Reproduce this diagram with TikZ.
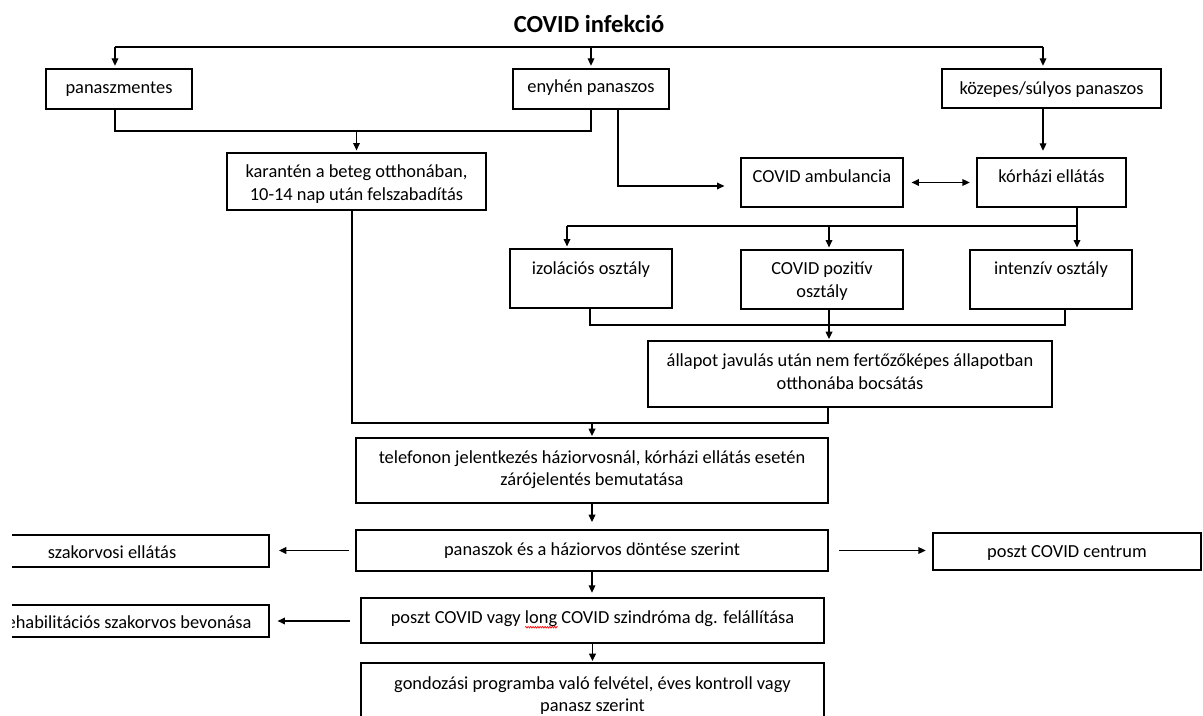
\documentclass[tikz,border=0pt]{standalone}
\usepackage{fontspec}
\setmainfont{Carlito}
\usetikzlibrary{arrows.meta}
\newlength\pxu
\setlength\pxu{0.75pt}
\newlength\wavewd
\newcommand\boxtxt[4]{\parbox[c][#2\pxu][t]{#1\pxu}{\centering\rule{0pt}{#3\pxu}#4\par}}
\newcommand\redwave[1]{\settowidth\wavewd{#1}\rlap{\raisebox{-3.2pt}{\tikz[x=1pt,y=1pt,baseline=0pt]\draw[red,line width=0.45pt] plot[domain=0:\wavewd/1pt,samples=60] (\x,{0.7*sin(\x*200)});}}#1}
\tikzset{
  box/.style={draw, line width=0.9pt, inner sep=0pt, font=\fontsize{13.8}{17.2}\selectfont},
  ln/.style={line width=0.9pt},
  arr/.style={-{Triangle[length=5.5pt,width=5pt]}},
  darr/.style={{Triangle[length=5.5pt,width=5pt]}-{Triangle[length=5.5pt,width=5pt]}}
}
\begin{document}
\begin{tikzpicture}[x=0.75pt,y=-0.75pt]
\useasboundingbox (0,0) rectangle (1203,716);
% title
\node[font=\bfseries\fontsize{18.4}{22}\selectfont, anchor=base, inner sep=0pt] (title) at (589,33) {COVID infekció};
% boxes
\node[box] (pm)  at (119,89)     {\boxtxt{146}{40}{25}{panaszmentes}};
\node[box] (en)  at (591,89)     {\boxtxt{156}{40}{24}{enyhén panaszos}};
\node[box] (kz)  at (1051.5,88.5){\boxtxt{219}{39}{26}{közepes/súlyos panaszos}};
\node[box] (kar) at (356.5,181.5){\boxtxt{259}{57}{25}{karantén a beteg otthonában,\\10-14 nap után felszabadítás}};
\node[box] (amb) at (822,182.5)  {\boxtxt{162}{49}{25}{COVID ambulancia}};
\node[box] (kor) at (1051.5,182.5){\boxtxt{149}{49}{25}{kórházi ellátás}};
\node[box] (izo) at (591,278.5)  {\boxtxt{162}{59}{26}{izolációs osztály}};
\node[box] (poz) at (822,279.5)  {\boxtxt{162}{59}{25}{COVID pozitív\\osztály}};
\node[box] (int) at (1051,279.5) {\boxtxt{162}{59}{25}{intenzív osztály}};
\node[box] (all) at (850,374)    {\boxtxt{404}{66}{26}{állapot javulás után nem fertőzőképes állapotban\\otthonába bocsátás}};
\node[box] (tel) at (592,470.5)  {\boxtxt{472}{65}{25}{telefonon jelentkezés háziorvosnál, kórházi ellátás esetén\\zárójelentés bemutatása}};
\node[box] (pan) at (592,550.5)  {\boxtxt{472}{41}{25}{panaszok és a háziorvos döntése szerint}};
\node[box] (pos) at (592.5,620.5){\boxtxt{463}{45}{25}{poszt COVID vagy \redwave{long} COVID szindróma dg. felállítása}};
\node[box] (gon) at (592.5,703)  {\boxtxt{463}{80}{26}{gondozási programba való felvétel, éves kontroll vagy\\panasz szerint}};
\node[box] (cen) at (1067,551.5) {\boxtxt{268}{37}{24}{poszt COVID centrum}};
\begin{scope}
  \clip (12,520) rectangle (300,650);
  \node[box] (szak) at (112,551) {\boxtxt{314}{32}{23}{szakorvosi ellátás}};
  \node[box] (reh)  at (126,621) {\boxtxt{286}{32}{23}{rehabilitációs szakorvos bevonása}};
\end{scope}
% connectors: top distribution
\coordinate (tl) at (115,47);
\coordinate (tr) at (1043,47);
\draw[ln] (tl) -- (tr);
\draw[ln,arr,shorten >=2pt] (tl) -- (tl |- pm.north);
\draw[ln,arr,shorten >=2pt] (en.north |- tl) -- (en.north);
\draw[ln,arr,shorten >=2pt] (tr) -- (tr |- kz.north);
% join to karantén
\coordinate (j1) at (115,131);
\draw[ln] (pm.south -| j1) -- (j1) -- (j1 -| en.south) -- (en.south);
\draw[ln,arr,shorten >=1.5pt] (kar.north |- j1) -- (kar.north);
% enyhén to ambulancia
\coordinate (j2) at (618,186);
\draw[ln,arr,shorten >=12pt] (en.south -| j2) -- (j2) -- (amb.west |- j2);
% közepes to kórházi
\draw[ln,arr,shorten >=5pt] (kz.south -| tr) -- (kor.north -| tr);
% ambulancia <-> kórházi
\draw[ln,darr,shorten <=6pt,shorten >=5pt] (amb.east) -- (kor.west);
% kórházi split
\coordinate (s0) at (567,226);
\coordinate (s1) at (1077,226);
\coordinate (s2) at (829,226);
\draw[ln] (kor.south -| s1) -- (s1) -- (s0);
\draw[ln,arr,shorten >=1.5pt] (s0) -- (s0 |- izo.north);
\draw[ln,arr,shorten >=1.5pt] (s2) -- (s2 |- poz.north);
\draw[ln,arr,shorten >=1.5pt] (s1) -- (s1 |- int.north);
% ward join
\coordinate (m0) at (590,325);
\coordinate (m1) at (1065,325);
\draw[ln] (m0 |- izo.south) -- (m0) -- (m1) -- (m1 |- int.south);
\draw[ln,arr,shorten >=1pt] (s2 |- poz.south) -- (s2 |- all.north);
% home join
\coordinate (h0) at (352,423);
\coordinate (h1) at (828,423);
\draw[ln] (kar.south -| h0) -- (h0) -- (h1) -- (h1 |- all.south);
\draw[ln,arr,shorten >=1pt] (tel.north |- h0) -- (tel.north);
% main chain
\draw[ln,arr,shorten >=5.5pt] (tel.south) -- (pan.north);
\draw[ln,arr,shorten >=3.5pt] (pan.south) -- (pan.south |- pos.north);
\draw[ln,arr,shorten >=1pt] (pos.south) -- (gon.north);
% side arrows
\draw[ln,arr,shorten <=4.5pt,shorten >=7pt] (pan.west) -- (pan.west -| szak.east);
\draw[ln,arr,shorten <=8pt,shorten >=6pt] (pos.west |- reh.east) -- (reh.east);
\draw[ln,arr,shorten <=8pt,shorten >=5pt] (pan.east) -- (pan.east -| cen.west);
\end{tikzpicture}
\end{document}
